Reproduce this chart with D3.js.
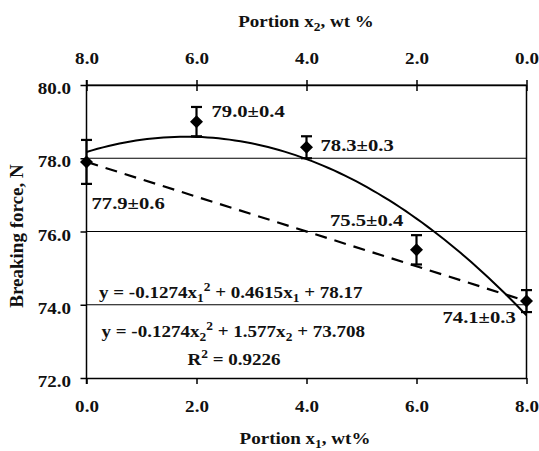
<!DOCTYPE html>
<html>
<head>
<meta charset="utf-8">
<script src="https://cdn.jsdelivr.net/npm/d3@7"></script>
<style>
  html, body { margin: 0; padding: 0; background: #fff; }
  svg { display: block; }
  text { font-family: "Liberation Serif", "Times New Roman", serif; font-weight: bold; fill: #111; }
</style>
</head>
<body>
<svg id="chart" width="539" height="451"></svg>
<script>
// Measured breaking force at each blend portion x1 (wt %)
const portionX1 = [0, 2, 4, 6, 8];
const force = [77.9, 79.0, 78.3, 75.5, 74.1];
const forceErr = [0.6, 0.4, 0.3, 0.4, 0.3];
const forceLabels = ["77.9±0.6", "79.0±0.4", "78.3±0.3", "75.5±0.4", "74.1±0.3"];

// Quadratic trend y = a*x1^2 + b*x1 + c
const trendCoef = [-0.1274, 0.4615, 78.17];
// Straight (additive) line between the two pure components
const additiveX = [0, 8];
const additiveY = [77.9, 74.1];

// Axis ticks
const x1Ticks = [0, 2, 4, 6, 8];
const x2Ticks = [8, 6, 4, 2, 0];
const yTicks = [72, 74, 76, 78, 80];
const gridValues = [74, 76, 78, 80];

const svg = d3.select("#chart");
const SX = 1.12; // horizontal glyph widening of the serif face

const x = d3.scaleLinear().domain([0, 8]).range([86.5, 526.5]);
const x2 = d3.scaleLinear().domain([8, 0]).range([86.5, 526.5]);
const y = d3.scaleLinear().domain([72, 80]).range([378, 85]);
const fmt = d3.format(".1f");

// Horizontal gridlines
svg.append("g").selectAll("line").data(gridValues).join("line")
  .attr("x1", x(0)).attr("x2", x(8))
  .attr("y1", d => y(d)).attr("y2", d => y(d))
  .attr("stroke", "#000").attr("stroke-width", 1.2);

// Right frame line
svg.append("line")
  .attr("x1", x(8)).attr("x2", x(8)).attr("y1", y(80)).attr("y2", y(72))
  .attr("stroke", "#000").attr("stroke-width", 1.5);

function styleAxis(g, size) {
  g.select(".domain").attr("stroke", "#000").attr("stroke-width", 1.5);
  g.selectAll(".tick line").attr("stroke", "#000").attr("stroke-width", 1.5);
  g.selectAll(".tick text")
    .attr("font-family", null).attr("fill", "#111")
    .style("font-size", size + "px");
}

// Bottom axis: portion x1
const gBottom = svg.append("g")
  .attr("transform", `translate(0,${y(72)})`)
  .call(d3.axisBottom(x).tickValues(x1Ticks).tickFormat(fmt).tickSizeInner(6).tickSizeOuter(0).tickPadding(16));
styleAxis(gBottom, 17);
gBottom.selectAll(".tick text").attr("transform", `scale(${SX},1)`);

// Top axis: portion x2 (reversed)
const gTop = svg.append("g")
  .attr("transform", `translate(0,${y(80)})`)
  .call(d3.axisTop(x2).tickValues(x2Ticks).tickFormat(fmt).tickSizeInner(-6).tickSizeOuter(0).tickPadding(21));
styleAxis(gTop, 17);
gTop.selectAll(".tick line").attr("y1", -5);
gTop.selectAll(".tick text").attr("transform", `scale(${SX},1)`);

// Left axis: breaking force
const gLeft = svg.append("g")
  .attr("transform", `translate(${x(0)},0)`)
  .call(d3.axisLeft(y).tickValues(yTicks).tickFormat(fmt).tickSizeInner(6).tickSizeOuter(0).tickPadding(9));
styleAxis(gLeft, 17);
gLeft.select(".domain").remove();
gLeft.append("line").attr("x1", 0).attr("x2", 0).attr("y1", y(80) - 5).attr("y2", y(72) + 6)
  .attr("stroke", "#000").attr("stroke-width", 1.5);
gLeft.selectAll(".tick text")
  .attr("x", -15.5 / SX).attr("dy", "0.5em")
  .attr("transform", `scale(${SX},1)`);

// Additive dashed line
svg.append("path")
  .datum(d3.zip(additiveX, additiveY))
  .attr("fill", "none").attr("stroke", "#000").attr("stroke-width", 2.2)
  .attr("stroke-dasharray", "12,8")
  .attr("d", d3.line().x(d => x(d[0])).y(d => y(d[1])));

// Quadratic trend curve
const trend = d3.range(0, 8.0001, 0.1).map(v => [v, trendCoef[0] * v * v + trendCoef[1] * v + trendCoef[2]]);
svg.append("path")
  .datum(trend)
  .attr("fill", "none").attr("stroke", "#000").attr("stroke-width", 2)
  .attr("d", d3.line().x(d => x(d[0])).y(d => y(d[1])));

// Error bars
const pts = portionX1.map((v, i) => ({ x: v, y: force[i], e: forceErr[i], label: forceLabels[i] }));
const gErr = svg.append("g").attr("stroke", "#000").attr("stroke-width", 2.2);
gErr.selectAll("line.v").data(pts).join("line").attr("class", "v")
  .attr("x1", d => x(d.x)).attr("x2", d => x(d.x))
  .attr("y1", d => y(d.y + d.e)).attr("y2", d => y(d.y - d.e));
gErr.selectAll("line.t").data(pts).join("line").attr("class", "t")
  .attr("x1", d => x(d.x) - 5.5).attr("x2", d => x(d.x) + 5.5)
  .attr("y1", d => y(d.y + d.e)).attr("y2", d => y(d.y + d.e));
gErr.selectAll("line.b").data(pts).join("line").attr("class", "b")
  .attr("x1", d => x(d.x) - 5.5).attr("x2", d => x(d.x) + 5.5)
  .attr("y1", d => y(d.y - d.e)).attr("y2", d => y(d.y - d.e));

// Diamond markers
svg.append("g").selectAll("path").data(pts).join("path")
  .attr("transform", d => `translate(${x(d.x)},${y(d.y)})`)
  .attr("d", "M0,-6.5L6.5,0L0,6.5L-6.5,0Z")
  .attr("fill", "#000");

// Value labels (offsets from each marker)
const labelOffset = [[5, 47], [15, -5], [14, 3.5], [-86.5, -24], [-84, 21.6]];
svg.append("g").selectAll("text").data(pts).join("text")
  .attr("transform", (d, i) => `translate(${x(d.x) + labelOffset[i][0]},${y(d.y) + labelOffset[i][1]}) scale(${SX + 0.06},1)`)
  .style("font-size", "17.5px")
  .text(d => d.label);

// Helper for text with sub/superscripts: parts = [[text, kind]]
function richText(px, py, parts, size) {
  const t = svg.append("text")
    .attr("transform", `translate(${px},${py}) scale(${SX},1)`)
    .style("font-size", size + "px");
  let shift = 0;
  parts.forEach(([s, kind]) => {
    const target = kind === "sub" ? 4 : kind === "sup" ? -7 : 0;
    const ts = t.append("tspan").attr("dy", target - shift).text(s);
    if (kind) ts.style("font-size", Math.round(size * 0.68) + "px");
    shift = target;
  });
  return t;
}

// Trend equations
richText(99, 298, [["y = -0.1274x"], ["1", "sub"], ["2", "sup"], [" + 0.4615x"], ["1", "sub"], [" + 78.17"]], 17);
richText(101.5, 337, [["y = -0.1274x"], ["2", "sub"], ["2", "sup"], [" + 1.577x"], ["2", "sub"], [" + 73.708"]], 17);
richText(187.5, 365, [["R"], ["2", "sup"], [" = 0.9226"]], 17);

// Axis titles
const tTop = richText(0, 27, [["Portion x"], ["2", "sub"], [", wt %"]], 17);
tTop.attr("text-anchor", "middle").attr("transform", `translate(306,27) scale(${SX},1)`);
const tBot = richText(0, 444, [["Portion x"], ["1", "sub"], [", wt%"]], 17);
tBot.attr("text-anchor", "middle").attr("transform", `translate(305,444) scale(${SX},1)`);

svg.append("text")
  .attr("transform", "translate(23,236) rotate(-90)")
  .attr("text-anchor", "middle")
  .style("font-size", "19px")
  .text("Breaking force, N");
</script>
</body>
</html>
